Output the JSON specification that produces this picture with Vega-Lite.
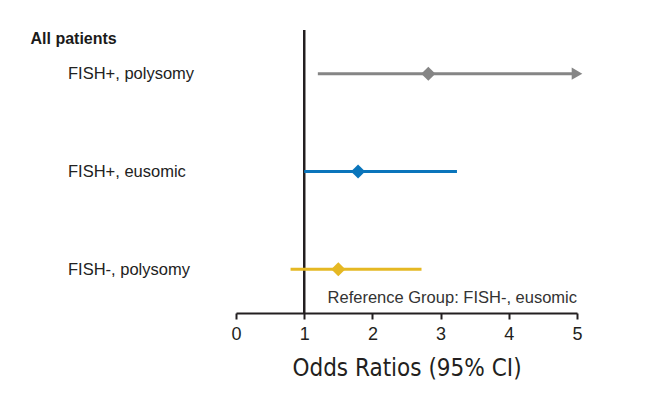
{
  "$schema": "https://vega.github.io/schema/vega-lite/v6.json",
  "width": 341,
  "height": 283,
  "autosize": {"type": "none"},
  "padding": {"left": 236, "top": 30, "right": 91, "bottom": 87},
  "background": "white",
  "config": {
    "view": {"stroke": null},
    "font": "Liberation Sans"
  },
  "data": {
    "values": [
      {"group": "FISH+, polysomy", "or": 2.82, "lo": 1.2, "hi": 5.0, "truncated": "yes"},
      {"group": "FISH+, eusomic", "or": 1.79, "lo": 1.0, "hi": 3.24, "truncated": "no"},
      {"group": "FISH-, polysomy", "or": 1.5, "lo": 0.8, "hi": 2.72, "truncated": "no"}
    ]
  },
  "encoding": {
    "y": {
      "field": "group",
      "type": "nominal",
      "sort": null,
      "scale": {"type": "point", "padding": 0.447},
      "axis": {
        "title": "All patients",
        "titleAngle": 0,
        "titleAlign": "left",
        "titleBaseline": "alphabetic",
        "titleX": -206,
        "titleY": 13,
        "titleFontSize": 16,
        "titleFontWeight": "bold",
        "titleColor": "#1a1a1a",
        "domain": false,
        "ticks": false,
        "labelAlign": "left",
        "labelBaseline": "middle",
        "labelPadding": 168.5,
        "labelFontSize": 16.5,
        "labelColor": "#222222"
      }
    },
    "color": {
      "field": "group",
      "type": "nominal",
      "scale": {
        "domain": ["FISH+, polysomy", "FISH+, eusomic", "FISH-, polysomy"],
        "range": ["#858585", "#0a75bb", "#e5b823"]
      },
      "legend": null
    }
  },
  "layer": [
    {
      "mark": {"type": "rule", "color": "#231f20", "strokeWidth": 2},
      "encoding": {
        "x": {"datum": 1, "type": "quantitative"},
        "y": null,
        "color": null
      }
    },
    {
      "mark": {"type": "rule", "strokeWidth": 3, "strokeCap": "butt"},
      "encoding": {
        "x": {
          "field": "lo",
          "type": "quantitative",
          "scale": {"domain": [0, 5], "nice": false, "zero": false},
          "axis": {
            "values": [0, 1, 2, 3, 4, 5],
            "format": "d",
            "grid": false,
            "domainColor": "#231f20",
            "domainWidth": 2,
            "tickColor": "#231f20",
            "tickWidth": 2,
            "tickSize": 6,
            "labelFontSize": 18,
            "labelColor": "#231f20",
            "labelPadding": 6,
            "labelFlush": false,
            "title": "Odds Ratios (95% CI)",
            "titleFont": "DejaVu Sans Condensed, Liberation Sans Narrow, Roboto Condensed, Arial Narrow, sans-serif",
            "titleFontSize": 24,
            "titleFontWeight": "normal",
            "titleColor": "#231f20",
            "titlePadding": 13
          }
        },
        "x2": {"field": "hi"}
      }
    },
    {
      "transform": [{"filter": "datum.truncated == 'yes'"}],
      "mark": {"type": "point", "shape": "triangle-right", "filled": true, "opacity": 1, "size": 150},
      "encoding": {
        "x": {"field": "hi", "type": "quantitative"}
      }
    },
    {
      "mark": {"type": "point", "shape": "diamond", "filled": true, "opacity": 1, "size": 200},
      "encoding": {
        "x": {"field": "or", "type": "quantitative"}
      }
    },
    {
      "data": {"values": [{"note": "Reference Group: FISH-, eusomic", "pos": 5}]},
      "mark": {"type": "text", "align": "right", "baseline": "alphabetic", "dy": -10, "fontSize": 16.5, "color": "#333333", "font": "Liberation Sans"},
      "encoding": {
        "x": {"field": "pos", "type": "quantitative"},
        "y": {"value": {"expr": "height"}},
        "text": {"field": "note"},
        "color": null
      }
    }
  ]
}
